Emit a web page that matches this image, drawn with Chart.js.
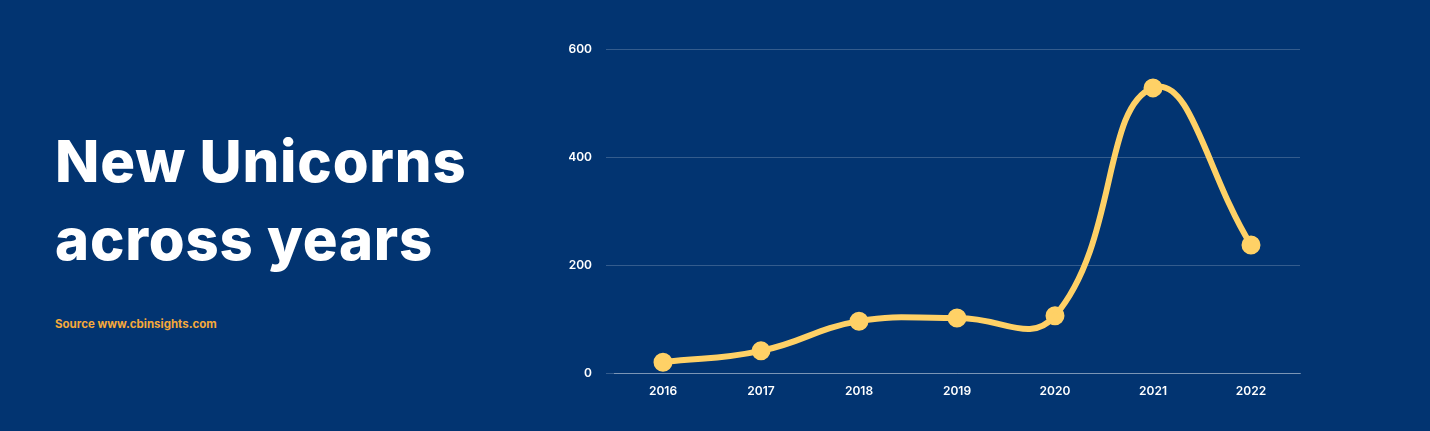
<!DOCTYPE html>
<html>
<head>
<meta charset="utf-8">
<script src="https://cdn.jsdelivr.net/npm/chart.js@4"></script>
<style>
  body { margin: 0; width: 1430px; height: 431px; background: #023471; overflow: hidden; font-family: Inter, "Noto Sans", sans-serif; }
  #title { position: absolute; left: 55px; top: 122px; color: #fff; font-weight: 800; font-size: 58px; line-height: 78px; letter-spacing: 0.8px; }
  #source { position: absolute; left: 55px; top: 317px; color: #f5a93a; font-weight: 700; font-size: 11.5px; }
  #wrap { position: absolute; left: 569px; top: 0; width: 751px; height: 431px; }
</style>
</head>
<body>
<div id="title">New Unicorns<br>across years</div>
<div id="source">Source www.cbinsights.com</div>
<div id="wrap"><canvas id="chart"></canvas></div>
<script>
const years = ['2016', '2017', '2018', '2019', '2020', '2021', '2022'];
const newUnicorns = [20, 41, 96, 102, 106, 528, 237];
const yTicks = [0, 200, 400, 600];

new Chart(document.getElementById('chart').getContext('2d'), {
    type: 'line',
    data: {
        labels: years,
        datasets: [{
            data: newUnicorns,
            borderColor: '#ffd166',
            backgroundColor: '#ffd166',
            borderWidth: 6,
            pointRadius: 6.5,
            pointHoverRadius: 6.5,
            tension: 0.45,
            fill: false
        }]
    },
    options: {
        responsive: true,
        maintainAspectRatio: false,
        animation: false,
        layout: { padding: { top: 49, right: 20, bottom: 28, left: 0 } },
        plugins: { legend: { display: false }, tooltip: { enabled: false } },
        scales: {
            x: {
                offset: true,
                grid: { display: false },
                border: { color: 'rgba(255,255,255,0.35)' },
                ticks: { color: '#fff', font: { size: 12, weight: '600', family: 'Inter' } },
                afterFit: s => { s.height = 30; }
            },
            y: {
                min: 0, max: 600,
                afterBuildTicks: s => { s.ticks = yTicks.map(v => ({ value: v })); },
                grid: { color: 'rgba(255,255,255,0.2)' },
                border: { display: false },
                ticks: { color: '#fff', font: { size: 12, weight: '600', family: 'Inter' }, padding: 14 },
                afterFit: s => { s.width = 45; }
            }
        }
    }
});
</script>
</body>
</html>
